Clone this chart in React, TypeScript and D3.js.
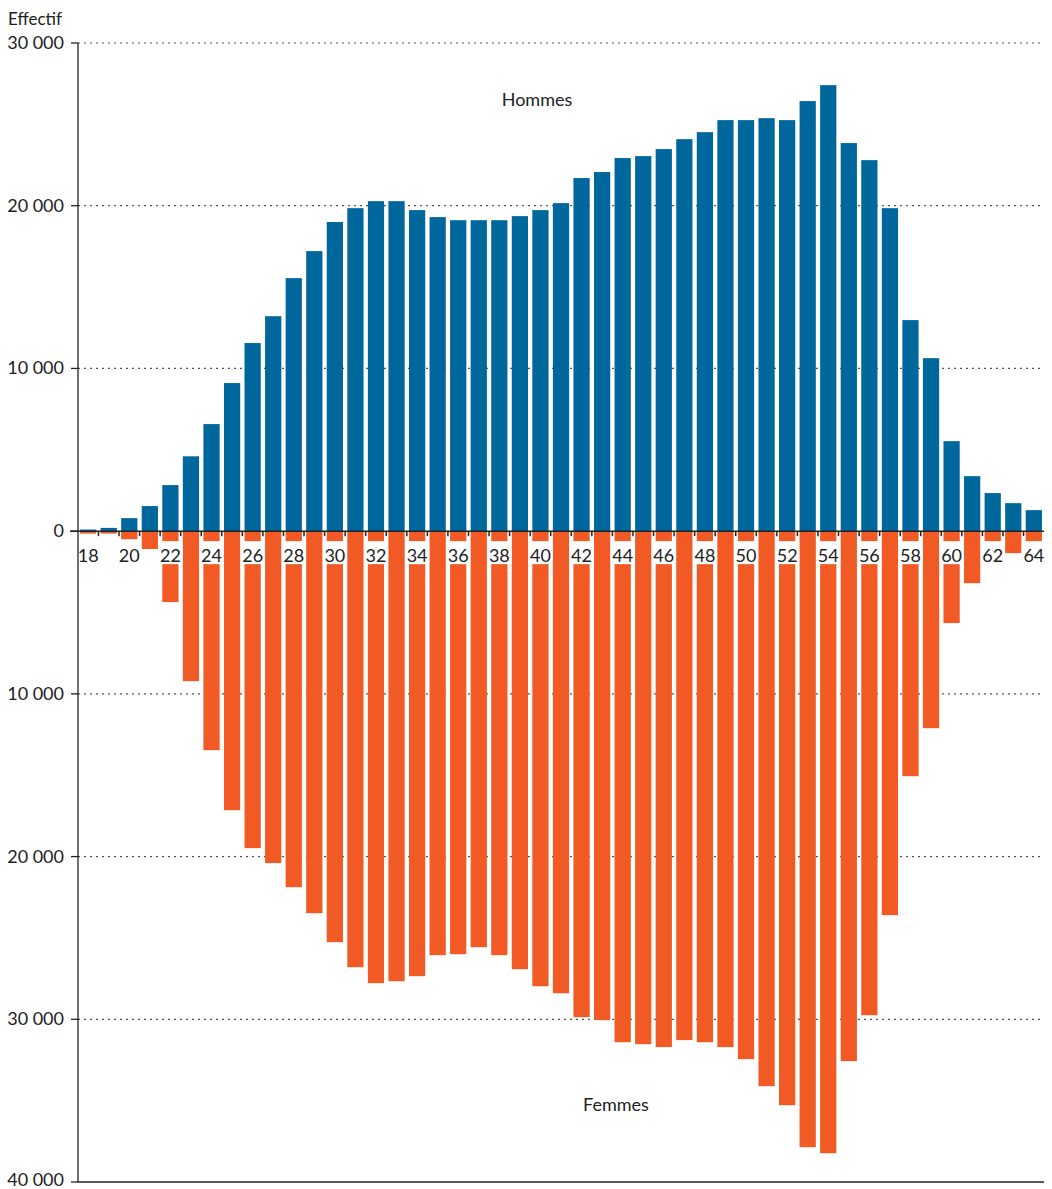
import React from 'react';
import * as d3 from 'd3';

// age 18 → 64
const ages = d3.range(18, 65);

const hommes = [
  100, 200, 800, 1540, 2830, 4600, 6580, 9100, 11560, 13210, 15550, 17210, 19000, 19850, 20280, 20280,
  19730, 19300, 19110, 19110, 19110, 19360, 19730, 20160, 21700, 22070, 22930, 23050, 23480, 24090,
  24520, 25260, 25260, 25380, 25260, 26430, 27410, 23850, 22800, 19850, 12970, 10630, 5530, 3380,
  2340, 1720, 1290,
];

const femmes = [
  150, 150, 500, 1100, 4360, 9220, 13460, 17150, 19480, 20400, 21880, 23480, 25260, 26800, 27780, 27660,
  27350, 26060, 26000, 25570, 26060, 26920, 27970, 28400, 29870, 30050, 31410, 31530, 31710, 31280,
  31410, 31710, 32450, 34110, 35280, 37860, 38230, 32570, 29750, 23600, 15060, 12110, 5650, 3200,
  1800, 1350, 900,
];

const yTicks = [30000, 20000, 10000, 0, -10000, -20000, -30000, -40000];

const BLUE = '#00679d';
const ORANGE = '#f15a25';
const FONT = 'Lato, "Open Sans", sans-serif';

export default function App() {
  const width = 1052;
  const height = 1189;
  const left = 78;
  const right = 1044;

  const x = d3.scaleBand<number>().domain(ages).range([left, right]).paddingInner(0.21).paddingOuter(0.1);
  const y = d3.scaleLinear().domain([-40000, 30000]).range([1182, 43]);
  const fmt = (v: number) => d3.format(',')(Math.abs(v)).replace(/,/g, ' ');

  const bw = x.bandwidth();
  const step = x.step();
  const y0 = y(0);

  return (
    <div style={{ position: 'absolute', left: 0, top: 0 }}>
      <svg width={width} height={height} style={{ display: 'block', fontFamily: FONT }}>
        <rect width={width} height={height} fill="#fff" />

        {/* grid */}
        {yTicks
          .filter((t) => t !== 0 && t !== -40000)
          .map((t) => (
            <line key={'g' + t} x1={left} x2={right} y1={y(t)} y2={y(t)} stroke="#555" strokeWidth={1.2} strokeDasharray="2,4" />
          ))}

        {/* bars */}
        {ages.map((a, i) => (
          <g key={a}>
            <rect x={x(a)} y={y(hommes[i])} width={bw} height={y0 - y(hommes[i])} fill={BLUE} />
            <rect x={x(a)} y={y0} width={bw} height={y(-femmes[i]) - y0} fill={ORANGE} />
          </g>
        ))}

        {/* x labels with white boxes */}
        {ages
          .filter((a) => a % 2 === 0)
          .map((a) => {
            const cx = (x(a) as number) + bw / 2;
            return (
              <g key={'l' + a}>
                <rect x={cx - 12} y={y0 + 10} width={24} height={23} fill="#fff" />
                <text x={cx} y={y0 + 31} textAnchor="middle" fontSize={18} fill="#222">
                  {a}
                </text>
              </g>
            );
          })}

        {/* axes */}
        <line x1={left} x2={left} y1={y(30000)} y2={y(-40000)} stroke="#222" strokeWidth={1.3} />
        <line x1={left - 8} x2={right} y1={y0} y2={y0} stroke="#222" strokeWidth={1.5} />
        <line x1={left} x2={right} y1={y(-40000)} y2={y(-40000)} stroke="#222" strokeWidth={1.3} />
        {ages.slice(0, -1).map((a) => {
          const tx = (x(a) as number) + bw + (step - bw) / 2;
          return <line key={'t' + a} x1={tx} x2={tx} y1={y0} y2={y0 + 5} stroke="#222" strokeWidth={1.5} />;
        })}

        {yTicks.map((t) => (
          <g key={'y' + t}>
            <line x1={left - 7} x2={left} y1={y(t)} y2={y(t)} stroke="#222" strokeWidth={1.3} />
            <text x={left - 14} y={Math.min(y(t) + 6, 1186)} textAnchor="end" fontSize={18} fill="#222">
              {fmt(t)}
            </text>
          </g>
        ))}

        <text x={8} y={25} fontSize={17} fill="#222">
          Effectif
        </text>
        <text x={537} y={106} textAnchor="middle" fontSize={18} fill="#222">
          Hommes
        </text>
        <text x={616} y={1111} textAnchor="middle" fontSize={18} fill="#222">
          Femmes
        </text>
      </svg>
    </div>
  );
}
